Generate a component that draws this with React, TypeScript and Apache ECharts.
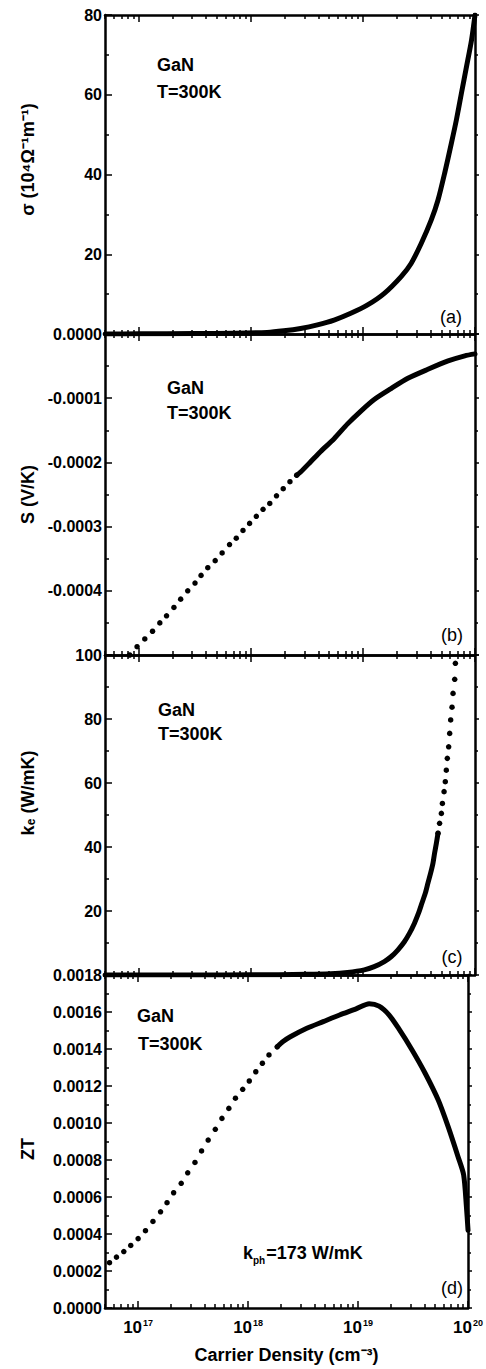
import React, { useEffect, useRef } from "react";
import * as echarts from "echarts";

// ---------- data (x values are log10 of carrier density, cm^-3) ----------
const X_MIN = 5e16;
const X_MAX = 1e20;
const xMajorTicks = [1e17, 1e18, 1e19, 1e20];
const xMinorMultipliers = [2, 3, 4, 5, 6, 7, 8, 9];
const xMinorDecades = [16, 17, 18, 19];

// (a) conductivity, 10^4 Ohm^-1 m^-1
const sigmaLogN = [16.70, 17.00, 17.50, 17.84, 18.145, 18.294, 18.444, 18.594, 18.743, 18.892, 19.042, 19.191, 19.341, 19.430, 19.520, 19.610, 19.670, 19.729, 19.789, 19.834, 19.879, 19.924, 19.969, 20.00];
const sigmaVals = [0.0, 0.05, 0.1, 0.2, 0.4, 0.8, 1.4, 2.3, 3.5, 5.2, 7.3, 10.2, 14.4, 17.7, 22.7, 28.6, 33.6, 40.3, 47.8, 53.7, 60.4, 67.0, 73.7, 80.0];

// (b) Seebeck coefficient, V/K  (discrete dots, then dense part)
const seebeckDotLogN = [16.919, 16.985, 17.054, 17.123, 17.188, 17.248, 17.314, 17.374, 17.437, 17.502, 17.556, 17.616, 17.682, 17.744, 17.810, 17.870, 17.930, 17.989, 18.049, 18.109, 18.169, 18.229, 18.289, 18.349, 18.409];
const seebeckDotVals = [-0.000500, -0.000487, -0.000475, -0.000463, -0.000450, -0.000439, -0.000426, -0.000413, -0.000400, -0.000388, -0.000376, -0.000364, -0.000353, -0.000341, -0.000328, -0.000318, -0.000306, -0.000295, -0.000284, -0.000273, -0.000264, -0.000252, -0.000241, -0.000230, -0.000220];
const seebeckLineLogN = [18.409, 18.444, 18.534, 18.623, 18.743, 18.863, 18.982, 19.101, 19.251, 19.401, 19.580, 19.760, 19.909, 20.00];
const seebeckLineVals = [-0.000220, -0.000215, -0.000199, -0.000183, -0.000163, -0.000140, -0.000120, -0.000102, -0.000085, -0.000069, -0.000055, -0.000042, -0.000034, -0.000031];

// (c) electronic thermal conductivity, W/mK
const keLineLogN = [16.70, 17.50, 18.00, 18.50, 18.713, 18.863, 19.012, 19.101, 19.191, 19.251, 19.311, 19.370, 19.415, 19.460, 19.496, 19.526, 19.556, 19.580, 19.604, 19.625, 19.639, 19.655, 19.670];
const keLineVals = [0, 0, 0.05, 0.2, 0.4, 0.8, 1.6, 2.6, 4.2, 5.7, 7.8, 10.4, 13.0, 16.2, 19.3, 22.4, 25.5, 28.7, 31.8, 34.9, 38.0, 41.1, 44.3];
const keDotLogN = [19.670, 19.684, 19.700, 19.709, 19.724, 19.735, 19.744, 19.753, 19.765, 19.774, 19.783, 19.795, 19.804, 19.819, 19.825];
const keDotVals = [44.3, 47.4, 50.5, 53.6, 57.3, 60.4, 64.0, 67.7, 71.3, 75.5, 79.7, 83.7, 88.0, 92.4, 97.4];

// (d) figure of merit ZT
const ztDotLogN = [16.740, 16.803, 16.870, 16.933, 17.000, 17.067, 17.135, 17.204, 17.263, 17.323, 17.392, 17.451, 17.517, 17.577, 17.637, 17.702, 17.762, 17.825, 17.885, 17.951, 18.011, 18.070, 18.130, 18.190, 18.265];
const ztDotVals = [0.000245, 0.000275, 0.000305, 0.000338, 0.000375, 0.000418, 0.000468, 0.000520, 0.000569, 0.000623, 0.000674, 0.000731, 0.000787, 0.000849, 0.000908, 0.000966, 0.001025, 0.001079, 0.001134, 0.001182, 0.001227, 0.001277, 0.001323, 0.001368, 0.001412];
const ztLineLogN = [18.265, 18.318, 18.384, 18.534, 18.683, 18.832, 18.982, 19.101, 19.191, 19.281, 19.370, 19.491, 19.610, 19.729, 19.819, 19.909, 19.960, 19.985, 20.000];
const ztLineVals = [0.001412, 0.001440, 0.001466, 0.001512, 0.001548, 0.001584, 0.001617, 0.001645, 0.001632, 0.001585, 0.001510, 0.001395, 0.001269, 0.001124, 0.000980, 0.000818, 0.000720, 0.000550, 0.000420];

// axis ranges / names
const yMins = [0, -0.0005, 0, 0];
const yMaxs = [80, 0, 100, 0.0018];
const yIntervals = [20, 0.0001, 20, 0.0002];
const yNames = ["σ (10⁴Ω⁻¹m⁻¹)", "S (V/K)", "kₑ (W/mK)", "ZT"];
const panelTags = ["(a)", "(b)", "(c)", "(d)"];
const xName = "Carrier Density (cm⁻³)";

const FONT = '"Liberation Sans", Arial, Helvetica, sans-serif';

const pts = (logN: number[], vals: number[]) => logN.map((l, j) => [Math.pow(10, l), vals[j]]);

const GRIDS = [
  { left: 105, top: 15, width: 370, height: 319 },
  { left: 105, top: 334, width: 370, height: 321 },
  { left: 105, top: 655, width: 370, height: 320 },
  { left: 105, top: 975, width: 370, height: 333 },
];

function buildOption() {
  const xMinor: number[] = [];
  xMinorDecades.forEach((d) => xMinorMultipliers.forEach((m) => {
    const v = m * Math.pow(10, d);
    if (v >= X_MIN && v <= X_MAX) xMinor.push(v);
  }));
  const black = "#000";
  const xAxes: any[] = [];
  const yAxes: any[] = [];
  for (let i = 0; i < 4; i++) {
    const common = {
      type: "log", logBase: 10, gridIndex: i, min: X_MIN, max: X_MAX,
      splitLine: { show: false }, minorTick: { show: false }, minorSplitLine: { show: false },
    };
    xAxes.push({
      ...common, position: "bottom",
      axisLine: { show: true, onZero: false, lineStyle: { color: black, width: 2.5 } },
      axisTick: { show: true, inside: true, length: 7, lineStyle: { color: black, width: 1.5 }, customValues: xMajorTicks },
      axisLabel: i === 3 ? {
        show: true, customValues: xMajorTicks, margin: 10,
        formatter: (v: number) => `{b|10}{s|${Math.round(Math.log10(v))}}`,
        rich: {
          b: { fontFamily: FONT, fontWeight: "bold", fontSize: 17, color: black },
          s: { fontFamily: FONT, fontWeight: "bold", fontSize: 9, color: black, padding: [0, 0, 10, 1] },
        },
      } : { show: false },
      name: i === 3 ? xName : "",
      nameLocation: "middle", nameGap: 38,
      nameTextStyle: { fontFamily: FONT, fontWeight: "bold", fontSize: 18, color: black },
    });
    xAxes.push({
      ...common, position: "bottom",
      axisLine: { show: false, onZero: false },
      axisTick: { show: true, inside: true, length: 4, lineStyle: { color: black, width: 1.5 }, customValues: xMinor },
      axisLabel: { show: false },
    });
    xAxes.push({
      ...common, position: "top",
      axisLine: { show: true, onZero: false, lineStyle: { color: black, width: 2.5 } },
      axisTick: { show: true, inside: true, length: 7, lineStyle: { color: black, width: 1.5 }, customValues: xMajorTicks },
      axisLabel: { show: false },
    });
    xAxes.push({
      ...common, position: "top",
      axisLine: { show: false, onZero: false },
      axisTick: { show: true, inside: true, length: 4, lineStyle: { color: black, width: 1.5 }, customValues: xMinor },
      axisLabel: { show: false },
    });

    const namePad = [[0, 0, 0, 30], [0, 0, 0, 0], [0, 0, 0, 44], [0, 15, 0, 0]][i];
    yAxes.push({
      type: "value", gridIndex: i, position: "left",
      min: yMins[i], max: yMaxs[i], interval: yIntervals[i],
      axisLine: { show: true, onZero: false, lineStyle: { color: black, width: 2.5 } },
      axisTick: { show: true, inside: true, length: 7, lineStyle: { color: black, width: 1.5 } },
      minorTick: { show: true, splitNumber: 2, length: 4, lineStyle: { color: black, width: 1.5 } },
      splitLine: { show: false }, minorSplitLine: { show: false },
      axisLabel: {
        show: true, margin: 3, showMinLabel: i === 3, showMaxLabel: true,
        fontFamily: FONT, fontWeight: "bold", fontSize: 16, color: black,
        formatter: (v: number) => (i === 1 || i === 3 ? v.toFixed(4) : String(Math.round(v))),
      },
      name: yNames[i], nameLocation: "middle", nameGap: 68, nameRotate: 90,
      nameTextStyle: { fontFamily: FONT, fontWeight: "bold", fontSize: 18, color: black, padding: namePad },
    });
    yAxes.push({
      type: "value", gridIndex: i, position: "right",
      min: yMins[i], max: yMaxs[i], interval: yIntervals[i],
      axisLine: { show: true, onZero: false, lineStyle: { color: black, width: 2.5 } },
      axisTick: { show: true, inside: false, length: 4, lineStyle: { color: black, width: 1.5 } },
      minorTick: { show: true, splitNumber: 2, length: 3, lineStyle: { color: black, width: 1.5 } },
      splitLine: { show: false }, minorSplitLine: { show: false },
      axisLabel: { show: false },
    });
  }

  const lineS = (i: number, data: number[][]) => ({
    type: "line", xAxisIndex: 4 * i, yAxisIndex: 2 * i, data, showSymbol: false, symbol: "none",
    smooth: 0.25,
    clip: true, lineStyle: { color: "#000", width: 5, cap: "round", join: "round" }, z: 3,
  });
  const dotS = (i: number, data: number[][]) => ({
    type: "scatter", xAxisIndex: 4 * i, yAxisIndex: 2 * i, data, symbol: "circle", symbolSize: 5.5,
    clip: true, itemStyle: { color: "#000", opacity: 1 }, z: 3,
  });

  const txt = (text: string, x: number, y: number, size: number, weight = "bold", align = "left") => ({
    type: "text", x, y, z: 10,
    style: { text, fill: "#000", font: `${weight} ${size}px ${FONT}`, textAlign: align, textVerticalAlign: "middle" },
  });

  const gan = [[157, 65], [167, 388], [158, 710], [137, 1016]];
  const tlab = [[157, 92], [167, 413], [158, 734], [138, 1044]];
  const tags = [[451, 317], [452, 635], [452, 957], [452, 1288]];
  const graphics: any[] = [];
  for (let i = 0; i < 4; i++) {
    graphics.push(txt("GaN", gan[i][0], gan[i][1], 18));
    graphics.push(txt("T=300K", tlab[i][0], tlab[i][1], 18));
    graphics.push(txt(panelTags[i], tags[i][0], tags[i][1], 18, "normal", "center"));
  }
  graphics.push({
    type: "text", x: 243, y: 1253, z: 10,
    style: {
      text: "{m|k}{s|ph}{m|=173 W/mK}", textVerticalAlign: "middle",
      rich: {
        m: { fontFamily: FONT, fontWeight: "bold", fontSize: 18, fill: "#000", color: "#000" },
        s: { fontFamily: FONT, fontWeight: "bold", fontSize: 10, fill: "#000", color: "#000", padding: [14, 1, 0, 0] },
      },
    },
  });

  return {
    animation: false,
    backgroundColor: "#fff",
    grid: GRIDS.map((g) => ({ ...g, containLabel: false })),
    xAxis: xAxes,
    yAxis: yAxes,
    series: [
      lineS(0, pts(sigmaLogN, sigmaVals)),
      dotS(1, pts(seebeckDotLogN, seebeckDotVals)),
      lineS(1, pts(seebeckLineLogN, seebeckLineVals)),
      lineS(2, pts(keLineLogN, keLineVals)),
      dotS(2, pts(keDotLogN, keDotVals)),
      dotS(3, pts(ztDotLogN, ztDotVals)),
      lineS(3, pts(ztLineLogN, ztLineVals)),
    ],
    graphic: graphics,
  };
}

export default function App() {
  const ref = useRef<HTMLDivElement>(null);
  useEffect(() => {
    if (!ref.current) return;
    const chart = echarts.init(ref.current, undefined, { renderer: "svg" });
    chart.setOption(buildOption() as any);
    return () => chart.dispose();
  }, []);
  return (
    <div
      ref={ref}
      style={{ position: "absolute", left: 0, top: 0, width: 486, height: 1369, background: "#fff" }}
    />
  );
}
